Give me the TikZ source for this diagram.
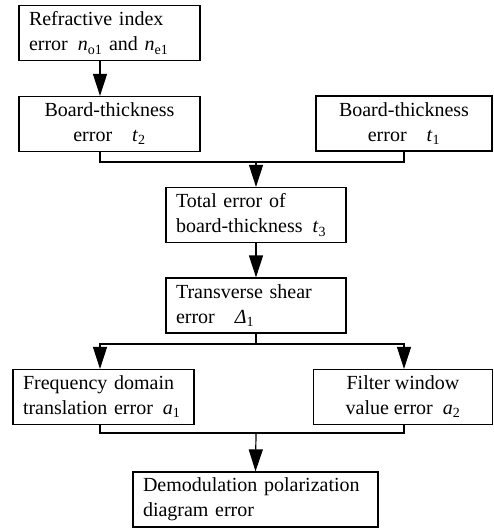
\documentclass[tikz,border=0pt]{standalone}
\usepackage{fontspec}
\setmainfont{Liberation Serif}
\usetikzlibrary{arrows.meta}

\begin{document}
\begin{tikzpicture}[
x=1pt,
y=-1pt,
box/.style={
  draw,
  line width=1.2pt,
  inner sep=0pt,
  minimum height=55pt,
  font=\fontsize{20}{25}\selectfont
  },
lbox/.style={
  box,
  align=left
  },
cbox/.style={
  box,
  align=center
  },
line/.style={
  line width=1.2pt
  },
>={Triangle[length=22pt,width=14pt]}
]
\useasboundingbox (0,0) rectangle (493,529);

% columns of the connectors
\coordinate (colL) at (100,0);
\coordinate (colR) at (404,0);
\coordinate (join1) at (256,162);
\coordinate (split) at (256,344);
\coordinate (join2) at (256,433);

\node[lbox, minimum width=181pt, text width=161pt] (refr) at (109.5,33)
  {Refractive index\\error\enspace\textit{n}\textsubscript{o1} and \textit{n}\textsubscript{e1}};
\node[cbox, minimum width=181pt] (thick2) at (109.5,124)
  {Board-thickness\\error\quad\textit{t}\textsubscript{2}};
\node[cbox, minimum width=176pt] (thick1) at (404,123.5)
  {Board-thickness\\error\quad\textit{t}\textsubscript{1}};
\node[lbox, minimum width=180pt, text width=160pt] (total) at (256,215)
  {Total error of\\board-thickness\enspace\textit{t}\textsubscript{3}};
\node[lbox, minimum width=180pt, text width=160pt] (shear) at (256,305.5)
  {Transverse shear\\error\quad\textit{Δ}\textsubscript{1}};
\node[lbox, minimum width=181pt, text width=161pt] (freq) at (103.5,397)
  {Frequency domain\\translation error\enspace\textit{a}\textsubscript{1}};
\node[cbox, minimum width=179pt] (filter) at (403,397)
  {Filter window\\value error\enspace\textit{a}\textsubscript{2}};
\node[lbox, minimum width=245pt, text width=225pt] (demod) at (255.5,499.5)
  {Demodulation polarization\\diagram error};

\draw[line,->] (refr.south -| colL) -- (thick2.north -| colL);

\draw[line] (thick2.south -| colL) |- (join1) -| (thick1.south -| colR);
\draw[line,->] (join1) -- (total.north);
\draw[line,->] (total) -- (shear);

\draw[line] (shear.south) -- (split);
\draw[line,->] (split) -| (freq.north -| colL);
\draw[line,->] (split) -| (filter.north -| colR);

\draw[line] (freq.south -| colL) |- (join2) -| (filter.south -| colR);
\draw[line,->] (join2) -- (demod.north);

\end{tikzpicture}
\end{document}
